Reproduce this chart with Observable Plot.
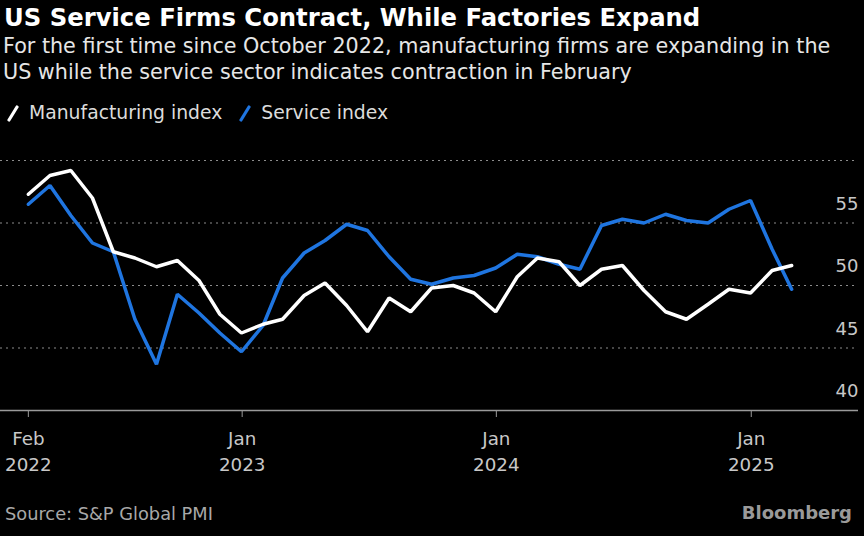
<!DOCTYPE html>
<html>
<head>
<meta charset="utf-8">
<script src="https://cdn.jsdelivr.net/npm/d3@7"></script>
<script src="https://cdn.jsdelivr.net/npm/@observablehq/plot@0.6"></script>
<style>
  html, body { margin: 0; padding: 0; background: #000; }
  body { width: 864px; height: 536px; overflow: hidden; position: relative;
         font-family: "DejaVu Sans", sans-serif; color: #fff; }
  #title { position: absolute; left: 4px; top: 3px; font-size: 24.3px; font-weight: bold; line-height: 30px; color: #fff; white-space: nowrap; }
  #subtitle { position: absolute; left: 3px; top: 34px; font-size: 20.7px; line-height: 25.5px; color: #e6e6e6; white-space: nowrap; }
  #legend { position: absolute; left: 6px; top: 101px; font-size: 18.8px; line-height: 24px; color: #dcdcdc; display: flex; align-items: center; white-space: nowrap; }
  #legend .item { display: flex; align-items: center; margin-right: 16px; }
  #legend svg { margin-right: 9px; }
  #chart { position: absolute; left: 0; top: 130px; }
  #source { position: absolute; left: 5px; top: 502px; font-size: 17.8px; line-height: 24px; color: #a8a8a8; }
  #brand { position: absolute; right: 12px; top: 501px; font-size: 18px; line-height: 24px; font-weight: bold; color: #9a9a9a; }
</style>
</head>
<body>
<div id="title">US Service Firms Contract, While Factories Expand</div>
<div id="subtitle">For the first time since October 2022, manufacturing firms are expanding in the<br>US while the service sector indicates contraction in February</div>
<div id="legend"></div>
<div id="chart"></div>
<div id="source">Source: S&amp;P Global PMI</div>
<div id="brand">Bloomberg</div>
<script>
// ---- data ----
const months = [
  "2022-02","2022-03","2022-04","2022-05","2022-06","2022-07","2022-08","2022-09","2022-10","2022-11","2022-12",
  "2023-01","2023-02","2023-03","2023-04","2023-05","2023-06","2023-07","2023-08","2023-09","2023-10","2023-11","2023-12",
  "2024-01","2024-02","2024-03","2024-04","2024-05","2024-06","2024-07","2024-08","2024-09","2024-10","2024-11","2024-12",
  "2025-01","2025-02"
];
const manufacturing = [
  57.3, 58.8, 59.2, 57.0, 52.7, 52.2, 51.5, 52.0, 50.4, 47.7, 46.2,
  46.9, 47.3, 49.2, 50.2, 48.4, 46.3, 49.0, 47.9, 49.8, 50.0, 49.4, 47.9,
  50.7, 52.2, 51.9, 50.0, 51.3, 51.6, 49.6, 47.9, 47.3, 48.5, 49.7, 49.4,
  51.2, 51.6
];
const services = [
  56.5, 58.0, 55.6, 53.4, 52.7, 47.3, 43.7, 49.3, 47.8, 46.2, 44.7,
  46.8, 50.6, 52.6, 53.6, 54.9, 54.4, 52.3, 50.5, 50.1, 50.6, 50.8, 51.4,
  52.5, 52.3, 51.7, 51.3, 54.8, 55.3, 55.0, 55.7, 55.2, 55.0, 56.1, 56.8,
  52.9, 49.7
];
const seriesNames = ["Manufacturing index", "Service index"];
const seriesColors = ["#ffffff", "#1f75e0"];
const xTickDates = ["2022-02-28", "2023-01-01", "2024-01-01", "2025-01-01"];
const xTickLabels = ["Feb\n2022", "Jan\n2023", "Jan\n2024", "Jan\n2025"];
const yTicks = [40, 45, 50, 55];
const yGrid = [45, 50, 55, 60];

// ---- build table ----
const monthEnd = s => { const [y, m] = s.split("-").map(Number); return new Date(Date.UTC(y, m, 0)); };
const rows = months.map((m, i) => ({ date: monthEnd(m), manufacturing: manufacturing[i], service: services[i] }));
const tickDates = xTickDates.map(s => new Date(s + "T00:00:00Z"));
const tickLabelMap = new Map(tickDates.map((d, i) => [+d, xTickLabels[i]]));

// ---- legend ----
const legend = document.getElementById("legend");
seriesNames.forEach((name, i) => {
  const item = document.createElement("div");
  item.className = "item";
  item.innerHTML = `<svg width="14" height="18"><line x1="3" y1="16" x2="11" y2="3" stroke="${seriesColors[i]}" stroke-width="3.2" stroke-linecap="round"/></svg><span>${name}</span>`;
  legend.appendChild(item);
});

// ---- chart ----
const fontFamily = '"DejaVu Sans", sans-serif';
const chart = Plot.plot({
  width: 864,
  height: 355,
  marginTop: 30,
  marginBottom: 75,
  marginLeft: 0,
  marginRight: 6,
  style: { background: "transparent", color: "#c8c8c8", fontFamily, fontSize: "18px" },
  x: { type: "utc", domain: [new Date("2022-01-19T00:00:00Z"), new Date("2025-06-04T00:00:00Z")] },
  y: { domain: [40, 60] },
  marks: [
    Plot.ruleY(yGrid, { stroke: "#8c8c8c", strokeDasharray: "2,4", strokeWidth: 1 }),
    Plot.ruleY([40], { stroke: "#9a9a9a", strokeWidth: 1.5 }),
    Plot.axisX({
      ticks: tickDates,
      tickFormat: d => tickLabelMap.get(+d),
      tickSize: 7,
      tickPadding: 9,
      stroke: "#9a9a9a",
      fill: "#c8c8c8",
      fontSize: 18.3,
      lineHeight: 1.42,
      label: null
    }),
    Plot.axisY({
      anchor: "right",
      ticks: yTicks,
      tickSize: 0,
      tickPadding: 0,
      textAnchor: "end",
      dy: -19,
      fontSize: 18,
      fill: "#c8c8c8",
      label: null
    }),
    Plot.lineY(rows, { x: "date", y: "service", stroke: seriesColors[1], strokeWidth: 3.5, strokeLinejoin: "miter" }),
    Plot.lineY(rows, { x: "date", y: "manufacturing", stroke: seriesColors[0], strokeWidth: 3.5, strokeLinejoin: "miter" })
  ]
});
document.getElementById("chart").appendChild(chart);
</script>
</body>
</html>
